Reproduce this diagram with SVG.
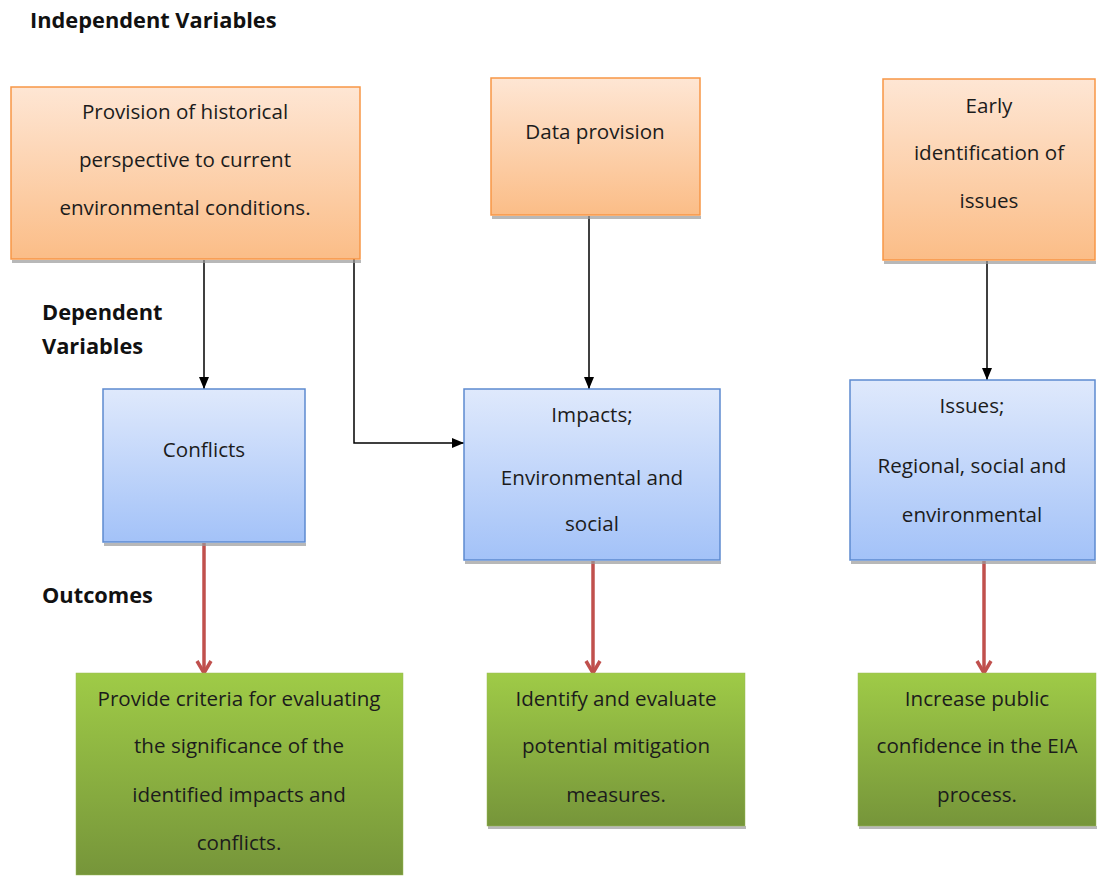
<svg xmlns="http://www.w3.org/2000/svg" width="1101" height="876" viewBox="0 0 1101 876">
<style>
text{font-family:"Open Sans","Liberation Sans",sans-serif;font-size:20.6px;fill:#1c1c1c;text-anchor:middle}
.h{font-weight:bold;text-anchor:start;font-size:21.8px;fill:#111}
.or{fill:url(#gO);stroke:#f79646;stroke-width:1.5}
.bl{fill:url(#gB);stroke:#5d8ad0;stroke-width:1.5}
.gr{fill:url(#gG);stroke:#9bbb59;stroke-width:0.5}
.sh{fill:#9a9a9a;opacity:0.7}
.k{stroke:#000;stroke-width:1.5;fill:none}
.r{stroke:#c0504d;stroke-width:3.5;fill:none}
</style>
<defs>
<linearGradient id="gO" x1="0" y1="0" x2="0" y2="1"><stop offset="0" stop-color="#fee6d4"/><stop offset="1" stop-color="#fbbd87"/></linearGradient>
<linearGradient id="gB" x1="0" y1="0" x2="0" y2="1"><stop offset="0" stop-color="#dfe9fc"/><stop offset="1" stop-color="#a3c2f8"/></linearGradient>
<linearGradient id="gG" x1="0" y1="0" x2="0" y2="1"><stop offset="0" stop-color="#9fcb47"/><stop offset="1" stop-color="#76953a"/></linearGradient>
<marker id="mk" viewBox="0 0 12 10" refX="12" refY="5" markerWidth="12" markerHeight="10" markerUnits="userSpaceOnUse" orient="auto"><path d="M0,0 L12,5 L0,10 z" fill="#000"/></marker>
<marker id="mr" viewBox="0 0 16 18" refX="15" refY="9" markerWidth="16" markerHeight="18" markerUnits="userSpaceOnUse" orient="auto"><path d="M2,2 L14,9 L2,16" fill="none" stroke="#c0504d" stroke-width="3.5" stroke-linejoin="miter"/></marker>
</defs>
<text class="h" x="30" y="28">Independent Variables</text>
<text class="h" x="42" y="320">Dependent</text>
<text class="h" x="42" y="354">Variables</text>
<text class="h" x="42" y="603">Outcomes</text>

<g id="connectors">
<line class="k" x1="204" y1="260" x2="204" y2="389" marker-end="url(#mk)"/>
<polyline class="k" points="354,258 354,443 464,443" marker-end="url(#mk)"/>
<line class="k" x1="589" y1="216" x2="589" y2="389" marker-end="url(#mk)"/>
<line class="k" x1="987" y1="261" x2="987" y2="380" marker-end="url(#mk)"/>
<line class="r" x1="204" y1="543" x2="204" y2="674" marker-end="url(#mr)"/>
<line class="r" x1="593" y1="561" x2="593" y2="674" marker-end="url(#mr)"/>
<line class="r" x1="984" y1="561" x2="984" y2="674" marker-end="url(#mr)"/>
</g>

<g id="n-hist">
<rect class="sh" x="12" y="260" width="349" height="3"/>
<rect class="or" x="11" y="87" width="349" height="172"/>
<text x="185" y="119">Provision of historical</text>
<text x="185" y="167">perspective to current</text>
<text x="185" y="215">environmental conditions.</text>
</g>
<g id="n-data">
<rect class="sh" x="492" y="216" width="209" height="3"/>
<rect class="or" x="491" y="78" width="209" height="137"/>
<text x="595" y="139">Data provision</text>
</g>
<g id="n-early">
<rect class="sh" x="884" y="261" width="212" height="3"/>
<rect class="or" x="883" y="79" width="212" height="181"/>
<text x="989" y="113">Early</text>
<text x="989" y="160">identification of</text>
<text x="989" y="208">issues</text>
</g>

<g id="n-conf">
<rect class="sh" x="104" y="543" width="202" height="3"/>
<rect class="bl" x="103" y="389" width="202" height="153"/>
<text x="204" y="457">Conflicts</text>
</g>
<g id="n-imp">
<rect class="sh" x="465" y="561" width="256" height="3"/>
<rect class="bl" x="464" y="389" width="256" height="171"/>
<text x="592" y="422">Impacts;</text>
<text x="592" y="485">Environmental and</text>
<text x="592" y="531">social</text>
</g>
<g id="n-iss">
<rect class="sh" x="851" y="561" width="245" height="3"/>
<rect class="bl" x="850" y="380" width="245" height="180"/>
<text x="972" y="413">Issues;</text>
<text x="972" y="473">Regional, social and</text>
<text x="972" y="522">environmental</text>
</g>

<g id="n-out1">
<rect class="gr" x="76" y="673" width="327" height="202"/>
<text x="239" y="706">Provide criteria for evaluating</text>
<text x="239" y="753">the significance of the</text>
<text x="239" y="802">identified impacts and</text>
<text x="239" y="850">conflicts.</text>
</g>
<g id="n-out2">
<rect class="sh" x="488" y="826" width="258" height="3"/>
<rect class="gr" x="487" y="673" width="258" height="153"/>
<text x="616" y="706">Identify and evaluate</text>
<text x="616" y="753">potential mitigation</text>
<text x="616" y="802">measures.</text>
</g>
<g id="n-out3">
<rect class="sh" x="859" y="826" width="238" height="3"/>
<rect class="gr" x="858" y="673" width="238" height="153"/>
<text x="977" y="706">Increase public</text>
<text x="977" y="753">confidence in the EIA</text>
<text x="977" y="802">process.</text>
</g>
</svg>
